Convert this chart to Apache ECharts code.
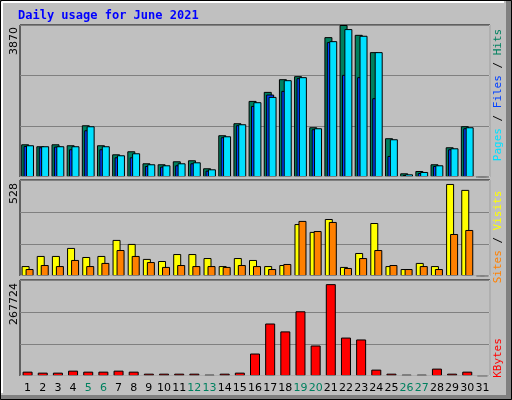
<!DOCTYPE html>
<html><head><meta charset="utf-8">
<script src="https://cdn.jsdelivr.net/npm/echarts@6/dist/echarts.min.js"></script>
<style>html,body{margin:0;padding:0;background:#C0C0C0}#c{width:512px;height:400px}</style>
</head><body><div id="c"></div>
<script>
var days = ['1','2','3','4','5','6','7','8','9','10','11','12','13','14','15','16','17','18','19','20','21','22','23','24','25','26','27','28','29','30','31'];
var weekend = ['5','6','12','13','19','20','26','27'];
var hits  = [833,783,833,808,1317,808,578,655,349,324,400,426,222,1063,1369,1937,2167,2490,2567,1267,3561,3870,3620,3179,987,94,153,324,757,1293,0];
var files = [791,757,774,706,1190,706,502,502,281,264,298,349,162,1012,1318,1810,2100,2193,2516,1216,3434,2601,2542,2006,536,51,102,281,706,1241,0];
var pages = [808,783,783,783,1292,783,553,604,324,298,349,374,196,1037,1343,1904,2040,2465,2542,1241,3459,3766,3596,3179,961,68,128,298,731,1267,0];
var sites = [57,115,115,161,109,115,207,184,98,86,126,126,103,57,103,92,57,63,298,253,327,52,132,304,57,40,75,57,528,494,0];
var visits= [40,63,57,92,57,75,149,115,80,52,63,57,57,52,63,57,40,69,316,258,310,46,103,149,63,40,57,40,241,264,0];
var kbytes= [12700,9800,9800,15600,12700,12700,15600,12700,6800,6800,6800,6800,3900,6800,9800,65500,153000,130000,188600,88900,267724,112000,106500,18600,6800,3900,3900,21500,6800,12700,0];
var maxLabels = ['3870','528','267724'];
var title = 'Daily usage for June 2021';

var chart = echarts.init(document.getElementById('c'));
var L=20, R=490, panels=[[25,152],[180,96],[280,96]];
var grids = panels.map(function(p){return {left:L, width:R-L, top:p[0], height:p[1], show:true, borderColor:'#000', borderWidth:1, backgroundColor:'#C0C0C0'};});
function xa(i, show){return {type:'category', data:days, gridIndex:i, axisLine:{show:false}, axisTick:{show:false},
  axisLabel:{show:show, interval:0, fontSize:11, fontFamily:'DejaVu Sans', margin:7,
    color:function(v){return weekend.indexOf(v)>=0?'#00805F':'#000';}}};}
function ya(i, max){return {type:'value', gridIndex:i, min:0, max:max, interval:max/3, axisLabel:{show:false}, axisLine:{show:false}, axisTick:{show:false}, splitLine:{lineStyle:{color:'#808080', width:1}}};}
var bs = {borderColor:'#000', borderWidth:1};
function bar(data, color, xi, w, gap){return {type:'bar', data:data, xAxisIndex:xi, yAxisIndex:xi, barWidth:w, barGap:gap, itemStyle:Object.assign({color:color}, bs), silent:true, animation:false};}

var graphics = [];
panels.forEach(function(p){
  graphics.push({type:'line', shape:{x1:L, y1:p[0]+p[1], x2:R, y2:p[0]+p[1]}, style:{stroke:'#fff', lineWidth:1}, z:100});
  graphics.push({type:'line', shape:{x1:R, y1:p[0], x2:R, y2:p[0]+p[1]}, style:{stroke:'#fff', lineWidth:1}, z:100});
});
graphics.push({type:'rect', shape:{x:506, y:0, width:6, height:400}, style:{fill:'#808080'}, z:1});
graphics.push({type:'rect', shape:{x:0, y:395, width:512, height:5}, style:{fill:'#808080'}, z:1});
graphics.push({type:'rect', shape:{x:0.5, y:0.5, width:511, height:399}, style:{fill:'none', stroke:'#000'}, z:2});
graphics.push({type:'line', shape:{x1:2, y1:2, x2:504, y2:2}, style:{stroke:'#fff', lineWidth:2}, z:2});
graphics.push({type:'line', shape:{x1:2, y1:2, x2:2, y2:393}, style:{stroke:'#fff', lineWidth:2}, z:2});
graphics.push({type:'text', x:18, y:16, style:{text:title, fill:'#0000FF', font:'bold 12px "DejaVu Sans Mono"', textVerticalAlign:'middle'}, z:10});
var ly=[27,183,283];
maxLabels.forEach(function(t,i){
  graphics.push({type:'text', x:14, y:ly[i], rotation:Math.PI/2, style:{text:t, fill:'#000', font:'11px "DejaVu Sans"', textAlign:'right', textVerticalAlign:'middle'}, z:10});
});
function rlabel(y, rich, parts){
  graphics.push({type:'text', x:498, y:y, rotation:Math.PI/2, style:{text:parts, rich:rich, font:'11px "DejaVu Sans Mono"', textAlign:'center', textVerticalAlign:'middle'}, z:10});
}
var rich={p:{fill:'#00E0FF',font:'11px "DejaVu Sans Mono"'},f:{fill:'#0040FF',font:'11px "DejaVu Sans Mono"'},h:{fill:'#00805F',font:'11px "DejaVu Sans Mono"'},
  k:{fill:'#000',font:'11px "DejaVu Sans Mono"'},s:{fill:'#FF8000',font:'11px "DejaVu Sans Mono"'},v:{fill:'#FFFF00',font:'11px "DejaVu Sans Mono"'},r:{fill:'#FF0000',font:'11px "DejaVu Sans Mono"'}};
rlabel(95, rich, '{p|Pages} {k|/} {f|Files} {k|/} {h|Hits}');
rlabel(237, rich, '{s|Sites} {k|/} {v|Visits}');
rlabel(358, rich, '{r|KBytes}');

chart.setOption({
  backgroundColor:'#C0C0C0',
  animation:false,
  grid:grids,
  xAxis:[xa(0,false), xa(1,false), xa(2,true)],
  yAxis:[ya(0,3870), ya(1,528*1.043), ya(2,267724*1.045)],
  series:[
    bar(hits,'#00805F',0,8,'-70%'),
    bar(files,'#0040FF',0,8,'-70%'),
    bar(pages,'#00E0FF',0,8,'-70%'),
    bar(sites,'#FFFF00',1,8,'-50%'),
    bar(visits,'#FF8000',1,8,'-50%'),
    bar(kbytes,'#FF0000',2,10,'0%')
  ],
  graphic:graphics
});
</script></body></html>
